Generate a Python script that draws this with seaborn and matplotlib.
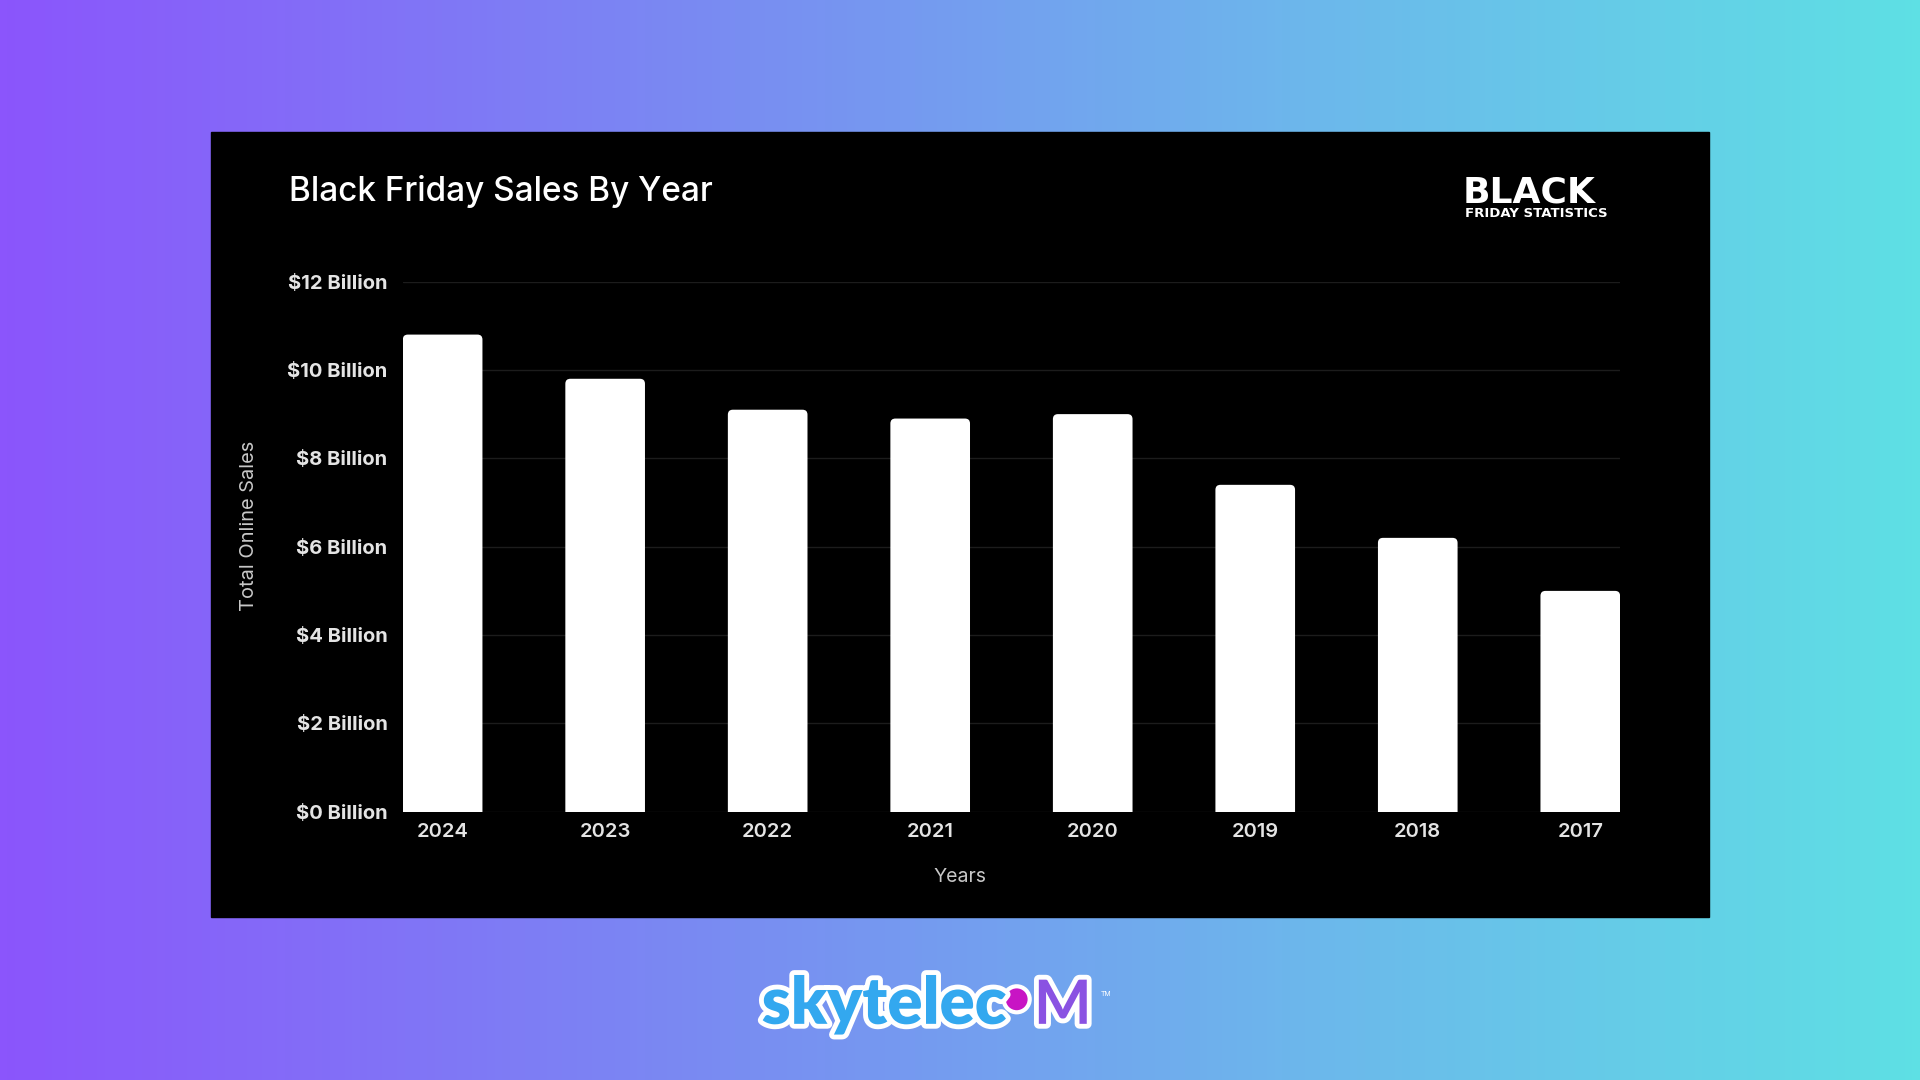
import numpy as np
import pandas as pd
import matplotlib.pyplot as plt
import seaborn as sns
import matplotlib.patheffects as pe
from matplotlib.patches import Rectangle, Ellipse, FancyBboxPatch
from matplotlib.colors import LinearSegmentedColormap

# Data: Black Friday online sales by year (billions of USD)
years = ['2024', '2023', '2022', '2021', '2020', '2019', '2018', '2017']
sales = [10.8, 9.8, 9.1, 8.9, 9.0, 7.4, 6.2, 5.0]
y_ticks = [0, 2, 4, 6, 8, 10, 12]
y_tick_labels = [f'${v} Billion' for v in y_ticks]

df = pd.DataFrame({'Year': years, 'Sales': sales})

sns.set_style('dark')
plt.rcParams['font.family'] = ['Inter', 'DejaVu Sans']

fig = plt.figure(figsize=(19.2, 10.8), dpi=100)

# gradient background + black card
bg = fig.add_axes([0, 0, 1, 1], zorder=0)
cmap = LinearSegmentedColormap.from_list('bg', ['#8b55fc', '#7b86f3', '#6db5ec', '#5ee0e4'])
bg.imshow(np.linspace(0, 1, 512).reshape(1, -1), aspect='auto', cmap=cmap,
          extent=[0, 1, 0, 1])
bg.add_patch(Rectangle((0.1097, 0.1507), 0.7806, 0.7269, color='black',
                       transform=bg.transAxes))
bg.set_xlim(0, 1)
bg.set_ylim(0, 1)
bg.axis('off')

# chart
ax = fig.add_axes([0.2098, 0.2483, 0.6340, 0.4910], zorder=1)
sns.barplot(data=df, x='Year', y='Sales', color='white', saturation=1,
            width=0.49, linewidth=0, ax=ax, zorder=3)
ax.set_facecolor('black')
ax.set_xlim(-0.245, 7.245)
ax.set_ylim(0, 12)

# give the bars slightly rounded corners (bottom ones are clipped by the axes)
x_per_px = 7.49 / (0.6340 * 1920)
y_per_px = 12 / (0.4910 * 1080)
r = 5 * x_per_px
aspect = y_per_px / x_per_px
for bar in list(ax.patches):
    x, y = bar.get_x(), bar.get_y()
    w, h = bar.get_width(), bar.get_height()
    ax.add_patch(FancyBboxPatch((x, y - r * aspect), w, h + r * aspect,
                                boxstyle=f'round,pad=0,rounding_size={r}',
                                mutation_aspect=aspect, facecolor='white',
                                edgecolor='none', zorder=3))
    bar.remove()

ax.set_yticks(y_ticks, y_tick_labels)
ax.yaxis.grid(True, color='#1c1c1c', linewidth=1)
ax.xaxis.grid(False)
for s in ax.spines.values():
    s.set_visible(False)
ax.tick_params(axis='y', length=0, pad=11, labelsize=14.5, labelcolor='#e4e4e4')
ax.tick_params(axis='x', length=0, pad=8, labelsize=14.5, labelcolor='#e4e4e4')
for lbl in ax.get_yticklabels():
    lbl.set_fontweight('bold')
for lbl in ax.get_xticklabels():
    lbl.set_fontweight('semibold')
ax.set_xlabel('')
ax.set_ylabel('')

# titles and axis labels
fig.text(0.1505, 0.8231, 'Black Friday Sales By Year', fontsize=24,
         fontweight='medium', color='white', ha='left', va='center')
fig.text(0.1295, 0.513, 'Total Online Sales', rotation=90, fontsize=14.4,
         color='#c8c8c8', ha='center', va='center')
fig.text(0.5, 0.188, 'Years', fontsize=14, color='#c8c8c8', ha='center', va='center')

# top-right logo
fig.text(0.7620, 0.822, 'BLACK', fontsize=26, fontweight='bold', color='white',
         family=['DejaVu Sans'], ha='left', va='center')
fig.text(0.7630, 0.8025, 'FRIDAY STATISTICS', fontsize=9.5, fontweight='bold',
         color='white', family=['DejaVu Sans'], ha='left', va='center')

# bottom brand logo
outline = [pe.Stroke(linewidth=7, foreground='white'), pe.Normal()]
fig.text(0.3967, 0.052, 'skytelec', fontsize=47, fontweight='heavy',
         color='#33a8ef', family=['Lato', 'DejaVu Sans'], ha='left',
         va='baseline', path_effects=outline)
bg.add_patch(Ellipse((1016.7 / 1920, 1 - 999.3 / 1080), 2 * 13 / 1920, 2 * 13 / 1080,
                     facecolor='#c814c4', edgecolor='white', linewidth=3,
                     transform=bg.transAxes))
fig.text(0.5385, 0.052, 'M', fontsize=44, fontweight='bold', color='#8a52e2',
         family=['Lato', 'DejaVu Sans'], ha='left', va='baseline',
         path_effects=outline)
fig.text(0.5735, 0.080, 'TM', fontsize=5, color='white', ha='left', va='center')

fig.savefig('out.png', dpi=100)
